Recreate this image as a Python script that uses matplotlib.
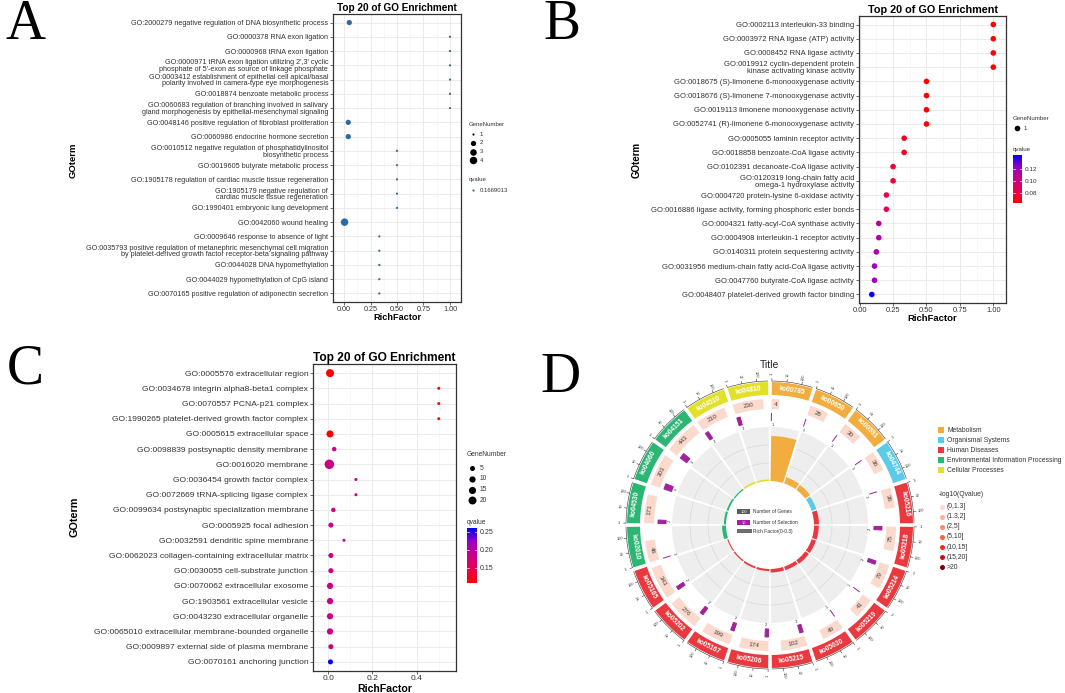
import numpy as np
import matplotlib as mpl
import matplotlib.pyplot as plt
from matplotlib.patches import Wedge, Rectangle, Arc
from matplotlib.colors import LinearSegmentedColormap, Normalize

plt.rcParams['font.family'] = ['Liberation Sans', 'DejaVu Sans']

W, H = 1065, 693

# ---------------- panel A data ----------------
a_terms = [
    'GO:2000279 negative regulation of DNA biosynthetic process',
    'GO:0000378 RNA exon ligation',
    'GO:0000968 tRNA exon ligation',
    "GO:0000971 tRNA exon ligation utilizing 2',3' cyclic\nphosphate of 5'-exon as source of linkage phosphate",
    'GO:0003412 establishment of epithelial cell apical/basal\npolarity involved in camera-type eye morphogenesis',
    'GO:0018874 benzoate metabolic process',
    'GO:0060683 regulation of branching involved in salivary\ngland morphogenesis by epithelial-mesenchymal signaling',
    'GO:0048146 positive regulation of fibroblast proliferation',
    'GO:0060986 endocrine hormone secretion',
    'GO:0010512 negative regulation of phosphatidylinositol\nbiosynthetic process',
    'GO:0019605 butyrate metabolic process',
    'GO:1905178 regulation of cardiac muscle tissue regeneration',
    'GO:1905179 negative regulation of\ncardiac muscle tissue regeneration',
    'GO:1990401 embryonic lung development',
    'GO:0042060 wound healing',
    'GO:0009646 response to absence of light',
    'GO:0035793 positive regulation of metanephric mesenchymal cell migration\nby platelet-derived growth factor receptor-beta signaling pathway',
    'GO:0044028 DNA hypomethylation',
    'GO:0044029 hypomethylation of CpG island',
    'GO:0070165 positive regulation of adiponectin secretion',
]
a_rich = [0.05, 1, 1, 1, 1, 1, 1, 0.04, 0.04, 0.5, 0.5, 0.5, 0.5, 0.5,
          0.005, 0.333, 0.333, 0.333, 0.333, 0.333]
a_genes = [2, 1, 1, 1, 1, 1, 1, 2, 2, 1, 1, 1, 1, 1, 4, 1, 1, 1, 1, 1]
a_size_breaks = [1, 2, 3, 4]
a_qvalue = '0.1669013'

# ---------------- panel B data ----------------
b_terms = [
    'GO:0002113 interleukin-33 binding',
    'GO:0003972 RNA ligase (ATP) activity',
    'GO:0008452 RNA ligase activity',
    'GO:0019912 cyclin-dependent protein\nkinase activating kinase activity',
    'GO:0018675 (S)-limonene 6-monooxygenase activity',
    'GO:0018676 (S)-limonene 7-monooxygenase activity',
    'GO:0019113 limonene monooxygenase activity',
    'GO:0052741 (R)-limonene 6-monooxygenase activity',
    'GO:0005055 laminin receptor activity',
    'GO:0018858 benzoate-CoA ligase activity',
    'GO:0102391 decanoate-CoA ligase activity',
    'GO:0120319 long-chain fatty acid\nomega-1 hydroxylase activity',
    'GO:0004720 protein-lysine 6-oxidase activity',
    'GO:0016886 ligase activity, forming phosphoric ester bonds',
    'GO:0004321 fatty-acyl-CoA synthase activity',
    'GO:0004908 interleukin-1 receptor activity',
    'GO:0140311 protein sequestering activity',
    'GO:0031956 medium-chain fatty acid-CoA ligase activity',
    'GO:0047760 butyrate-CoA ligase activity',
    'GO:0048407 platelet-derived growth factor binding',
]
b_rich = [1, 1, 1, 1, 0.5, 0.5, 0.5, 0.5, 0.333, 0.333, 0.25, 0.25, 0.2, 0.2,
          0.143, 0.143, 0.125, 0.111, 0.111, 0.091]
b_qvalue = [0.064] * 8 + [0.073, 0.073, 0.078, 0.078, 0.083, 0.083,
                          0.112, 0.112, 0.116, 0.120, 0.120, 0.142]
b_qticks = [0.08, 0.10, 0.12]

# ---------------- panel C data ----------------
c_terms = [
    'GO:0005576 extracellular region',
    'GO:0034678 integrin alpha8-beta1 complex',
    'GO:0070557 PCNA-p21 complex',
    'GO:1990265 platelet-derived growth factor complex',
    'GO:0005615 extracellular space',
    'GO:0098839 postsynaptic density membrane',
    'GO:0016020 membrane',
    'GO:0036454 growth factor complex',
    'GO:0072669 tRNA-splicing ligase complex',
    'GO:0099634 postsynaptic specialization membrane',
    'GO:0005925 focal adhesion',
    'GO:0032591 dendritic spine membrane',
    'GO:0062023 collagen-containing extracellular matrix',
    'GO:0030055 cell-substrate junction',
    'GO:0070062 extracellular exosome',
    'GO:1903561 extracellular vesicle',
    'GO:0043230 extracellular organelle',
    'GO:0065010 extracellular membrane-bounded organelle',
    'GO:0009897 external side of plasma membrane',
    'GO:0070161 anchoring junction',
]
c_rich = [0.008, 0.5, 0.5, 0.5, 0.008, 0.027, 0.005, 0.125, 0.125, 0.023,
          0.012, 0.071, 0.012, 0.012, 0.008, 0.008, 0.008, 0.008, 0.012, 0.010]
c_genes = [13, 1, 1, 1, 9, 2, 21, 1, 1, 2, 3, 1, 3, 3, 6, 6, 6, 6, 3, 3]
c_qvalue = [0.108] * 5 + [0.182] * 14 + [0.261]
c_size_breaks = [5, 10, 15, 20]
c_qticks = [0.15, 0.20, 0.25]

# ---------------- panel D data ----------------
d_ids = ['ko00785', 'ko00650', 'ko00591', 'ko04744', 'ko05216', 'ko05218', 'ko05214',
         'ko05219', 'ko05030', 'ko05215', 'ko05206', 'ko05167', 'ko05202', 'ko05165',
         'ko02010', 'ko04530', 'ko04060', 'ko04151', 'ko04510', 'ko04810']
d_class = (['Metabolism'] * 3 + ['Organismal Systems'] + ['Human Diseases'] * 10
           + ['Environmental Information Processing'] * 4 + ['Cellular Processes'] * 2)
d_genes = [4, 28, 30, 36, 36, 75, 79, 41, 49, 102, 174, 199, 276, 343, 46, 171, 303, 443, 210, 230]
d_select = [1, 1, 1, 1, 1, 2, 2, 1, 1, 2, 2, 2, 2, 2, 1, 2, 3, 3, 2, 2]
d_qbin = [0] * 20
d_class_names = ['Metabolism', 'Organismal Systems', 'Human Diseases',
                 'Environmental Information Processing', 'Cellular Processes']
d_class_colors = ['#F2AD3F', '#5CCBEA', '#E9393F', '#2BB673', '#E3E028']
d_q_labels = ['(0,1.3]', '(1.3,2]', '(2,5]', '(5,10]', '(10,15]', '(15,20]', '>20']
d_q_colors = ['#FBD9CC', '#FCB195', '#FB8A6A', '#F5603F', '#E8301E', '#C0141A', '#7A0010']

cmap = LinearSegmentedColormap.from_list(
    'rb', ['#FF0000', '#E8004F', '#CA0088', '#9A00C3', '#0000FF'])

fig = plt.figure(figsize=(W / 100, H / 100), dpi=100)


def px_axes(left, top, right, bottom, **kw):
    return fig.add_axes([left / W, 1 - bottom / H, (right - left) / W, (bottom - top) / H], **kw)


def area(d):
    # dot diameter in pixels -> scatter size in pt^2
    return (d * 0.72) ** 2


def size_a(n):
    return 2.2 + np.sqrt((np.asarray(n) - 1) / 3.0) * 5.3


def size_c(n):
    return 3.0 + np.sqrt((np.asarray(n) - 1) / 20.0) * 6.5


def dot_panel(box, terms, rich, d, colors, xlim, xticks, xlabels, xminor, fs, tfs, title_fs):
    ax = px_axes(*box)
    rows = np.arange(1, len(terms) + 1)
    ax.scatter(rich, rows, s=area(d), c=colors, linewidths=0, zorder=3, clip_on=False)
    ax.set_xlim(*xlim)
    ax.set_ylim(len(terms) + 0.6, 0.4)
    ax.set_yticks(rows)
    ax.set_yticklabels(terms, fontsize=fs, linespacing=0.95, color='#333333')
    ax.set_xticks(xticks)
    ax.set_xticklabels(xlabels, fontsize=tfs, color='#333333')
    ax.set_xticks(xminor, minor=True)
    ax.tick_params(which='major', length=2, width=0.5, color='#333333', pad=1.5)
    ax.tick_params(axis='x', which='major', pad=0.8)
    ax.tick_params(which='minor', length=0)
    ax.grid(which='major', color='#e8e8e8', lw=0.6)
    ax.grid(which='minor', axis='x', color='#f3f3f3', lw=0.4)
    ax.set_axisbelow(True)
    for sp in ax.spines.values():
        sp.set_color('#333333')
        sp.set_linewidth(0.9)
    ax.set_title('Top 20 of GO Enrichment', fontsize=title_fs, fontweight='bold', pad=2)
    return ax


# ---------------- panel A ----------------
dot_panel((333, 14, 461, 302), a_terms, a_rich, size_a(a_genes), '#2C6AA6',
          (-0.104, 1.104), [0, 0.25, 0.5, 0.75, 1.0], ['0.00', '0.25', '0.50', '0.75', '1.00'],
          [0.125, 0.375, 0.625, 0.875], 5.2, 5.2, 7.2)

# ---------------- panel B ----------------
b_norm = Normalize(0.064, 0.142)
dot_panel((859, 16, 1006, 303), b_terms, b_rich, np.full(20, 5.6), cmap(b_norm(b_qvalue)),
          (-0.005, 1.095), [0, 0.25, 0.5, 0.75, 1.0], ['0.00', '0.25', '0.50', '0.75', '1.00'],
          [0.125, 0.375, 0.625, 0.875], 5.5, 5.4, 7.8)

# ---------------- panel C ----------------
c_norm = Normalize(0.108, 0.261)
dot_panel((313, 364, 456, 671), c_terms, c_rich, size_c(c_genes), cmap(c_norm(c_qvalue)),
          (-0.069, 0.578), [0, 0.2, 0.4], ['0.0', '0.2', '0.4'],
          [0.1, 0.3, 0.5], 6.1, 6.1, 8.6)


def colorbar(box, norm, ticks, fs):
    cax = px_axes(*box)
    cb = fig.colorbar(mpl.cm.ScalarMappable(norm=norm, cmap=cmap), cax=cax, ticks=ticks)
    cb.outline.set_visible(False)
    cax.tick_params(length=0, labelsize=fs, pad=2, labelcolor='#333333')
    cax.set_yticklabels(['%.2f' % t for t in ticks])
    for t in ticks:
        cax.axhline(t, 0, 0.2, color='white', lw=0.5)
        cax.axhline(t, 0.8, 1, color='white', lw=0.5)


colorbar((1013, 155, 1022, 203), b_norm, b_qticks, 4.6)
colorbar((467, 528, 477, 583), c_norm, c_qticks, 5.0)

# ---------------- panel D ----------------
ax = px_axes(600, 355, 940, 693)
ax.set_xlim(-170, 170)
ax.set_ylim(-168, 170)
ax.axis('off')

STEP, GAP, LMAX = 18.0, 1.5, 2.75
SPAN = STEP - GAP


def wedge(r_out, t1, t2, width, **kw):
    # angles clockwise from 12 o'clock
    ax.add_patch(Wedge((0, 0), r_out, 90 - t2, 90 - t1, width=width, **kw))


def polar(r, t):
    return r * np.sin(np.radians(t)), r * np.cos(np.radians(t))


def tang_rot(t):
    rot = (-t) % 360
    if 90 < rot < 270:
        rot -= 180
    return rot


def rad_rot(t):
    rot = (90 - t) % 360
    if 90 < rot < 270:
        rot -= 180
    return rot


for i, (kid, cls, g, sel, qb) in enumerate(zip(d_ids, d_class, d_genes, d_select, d_qbin)):
    ts = i * STEP + GAP / 2
    te = ts + SPAN
    tc = (ts + te) / 2
    col = d_class_colors[d_class_names.index(cls)]

    def xpos(v):
        return ts + v / LMAX * SPAN

    # outer category ring
    wedge(143, ts, te, 13, color=col, lw=0)
    x, y = polar(136.5, tc)
    ax.text(x, y, kid, color='white', fontsize=4.8, fontweight='bold',
            rotation=tang_rot(tc), ha='center', va='center', rotation_mode='anchor')

    # log axis outside
    ax.add_patch(Arc((0, 0), 288, 288, theta1=90 - te, theta2=90 - ts, lw=0.4, color='#333333'))
    for v, lab in zip([0, 1, 2], ['1', '10', '100']):
        tt = xpos(v)
        x0, y0 = polar(144, tt)
        x1, y1 = polar(146.5, tt)
        ax.plot([x0, x1], [y0, y1], color='#333333', lw=0.4)
        x, y = polar(151, tt)
        ax.text(x, y, lab, fontsize=2.8, color='#333333', rotation=rad_rot(tt),
                ha='center', va='center', rotation_mode='anchor')

    # number of genes
    tg = xpos(np.log10(g))
    wedge(126, ts, tg, 10, color=d_q_colors[qb], lw=0)
    x, y = polar(121, (ts + tg) / 2)
    ax.text(x, y, str(g), fontsize=4.6, color='#444444', rotation=tang_rot((ts + tg) / 2),
            ha='center', va='center', rotation_mode='anchor')

    # number of selection
    tsel = xpos(np.log10(sel))
    wedge(112, ts, tsel, 8, facecolor='#A0229C', edgecolor='#A0229C', lw=0.7)
    x, y = polar(100, (ts + tsel) / 2 + 0.8)
    ax.text(x, y, str(sel), fontsize=3.0, color='#333333', rotation=tang_rot(ts),
            ha='center', va='center', rotation_mode='anchor')

    # grey background for rich factor
    wedge(98, ts, te, 54, color='#EEEEEE', lw=0)
    for r in (62, 80):
        ax.add_patch(Arc((0, 0), 2 * r, 2 * r, theta1=90 - te, theta2=90 - ts,
                         lw=0.5, color='#D8D8D8'))

    # rich factor bar (0 - 0.3)
    hgt = sel / g / 0.3 * 54
    wedge(44 + hgt, ts, te, hgt, color=col, lw=0)

ax.text(0, 160, 'Title', fontsize=7.5, ha='center', va='center', color='#222222')

# centre key
ax.add_patch(Rectangle((-33, 10.7), 13.3, 5, color='#5A5A5A', lw=0))
ax.text(-26.3, 13.2, '100', fontsize=2.8, color='white', ha='center', va='center')
ax.text(-16.7, 13.2, 'Number of Genes', fontsize=3.5, color='#333333', ha='left', va='center')
ax.add_patch(Rectangle((-33, 0), 13.3, 5, color='#A0229C', lw=0))
ax.text(-26.3, 2.5, '10', fontsize=2.8, color='white', ha='center', va='center')
ax.text(-16.7, 2.5, 'Number of Selection', fontsize=3.5, color='#333333', ha='left', va='center')
ax.add_patch(Rectangle((-33, -8.3), 14.7, 4.3, color='#6E6E6E', lw=0))
ax.text(-16.7, -6.2, 'Rich Factor(0-0.3)', fontsize=3.5, color='#333333', ha='left', va='center')

# ---------------- overlay: legends, axis titles, letters ----------------
lax = fig.add_axes([0, 0, 1, 1], zorder=10)
lax.set_xlim(0, W)
lax.set_ylim(H, 0)
lax.axis('off')

# axis titles
for x, y, fs in [(73, 160, 6.8), (637, 160, 7.0), (75, 517, 7.8)]:
    lax.text(x, y, 'GOterm', rotation=90, fontsize=fs, fontweight='bold', ha='center', va='center')
for x, y, fs in [(397, 317.5, 6.6), (932, 318.5, 6.8), (384.5, 688.5, 7.6)]:
    lax.text(x, y, 'RichFactor', fontsize=fs, fontweight='bold', ha='center', va='center')

# legend A
lax.text(469, 125, 'GeneNumber', fontsize=4.3, va='center', color='#333333')
for n, y in zip(a_size_breaks, 134 + 8.8 * np.arange(len(a_size_breaks))):
    lax.scatter(473, y, s=area(size_a(n)), c='black', linewidths=0)
    lax.text(480, y, str(n), fontsize=4.3, va='center', color='#333333')
lax.text(469, 180, 'qvalue', fontsize=4.3, va='center', color='#333333')
lax.scatter(473, 190, s=area(2.2), c='#2C6AA6', linewidths=0)
lax.text(480, 190, a_qvalue, fontsize=4.3, va='center', color='#333333')

# legend B
lax.text(1013, 118, 'GeneNumber', fontsize=4.4, va='center', color='#333333')
lax.scatter(1017, 128, s=area(5.6), c='black', linewidths=0)
lax.text(1024, 128, '1', fontsize=4.4, va='center', color='#333333')
lax.text(1013, 150, 'qvalue', fontsize=4.4, va='center', color='#333333')

# legend C
lax.text(467, 455, 'GeneNumber', fontsize=4.8, va='center', color='#333333')
for n, y in zip(c_size_breaks, 468 + 10.8 * np.arange(len(c_size_breaks))):
    lax.scatter(472, y, s=area(size_c(n) * 0.85), c='black', linewidths=0)
    lax.text(480, y, str(n), fontsize=4.8, va='center', color='#333333')
lax.text(467, 522, 'qvalue', fontsize=4.8, va='center', color='#333333')

# legend D
for k, (name, col) in enumerate(zip(d_class_names, d_class_colors)):
    y = 430 + 10 * k
    lax.scatter(941, y, s=area(5.5), marker='s', c=col, linewidths=0)
    lax.text(947, y, name, fontsize=4.9, va='center', color='#333333')
lax.text(939, 494, '-log10(Qvalue)', fontsize=4.9, va='center', color='#333333')
for k, (lab, col) in enumerate(zip(d_q_labels, d_q_colors)):
    y = 506.7 + 10.1 * k
    lax.scatter(942, y, s=area(5), c=col, linewidths=0)
    lax.text(947, y, lab, fontsize=4.9, va='center', color='#333333')

# panel letters
for x, y, s in [(25, 25, 'A'), (562, 25, 'B'), (25, 370, 'C'), (560, 378, 'D')]:
    lax.text(x, y, s, fontsize=40, family='Liberation Serif', ha='center', va='center')

fig.savefig('out.png', dpi=100)
